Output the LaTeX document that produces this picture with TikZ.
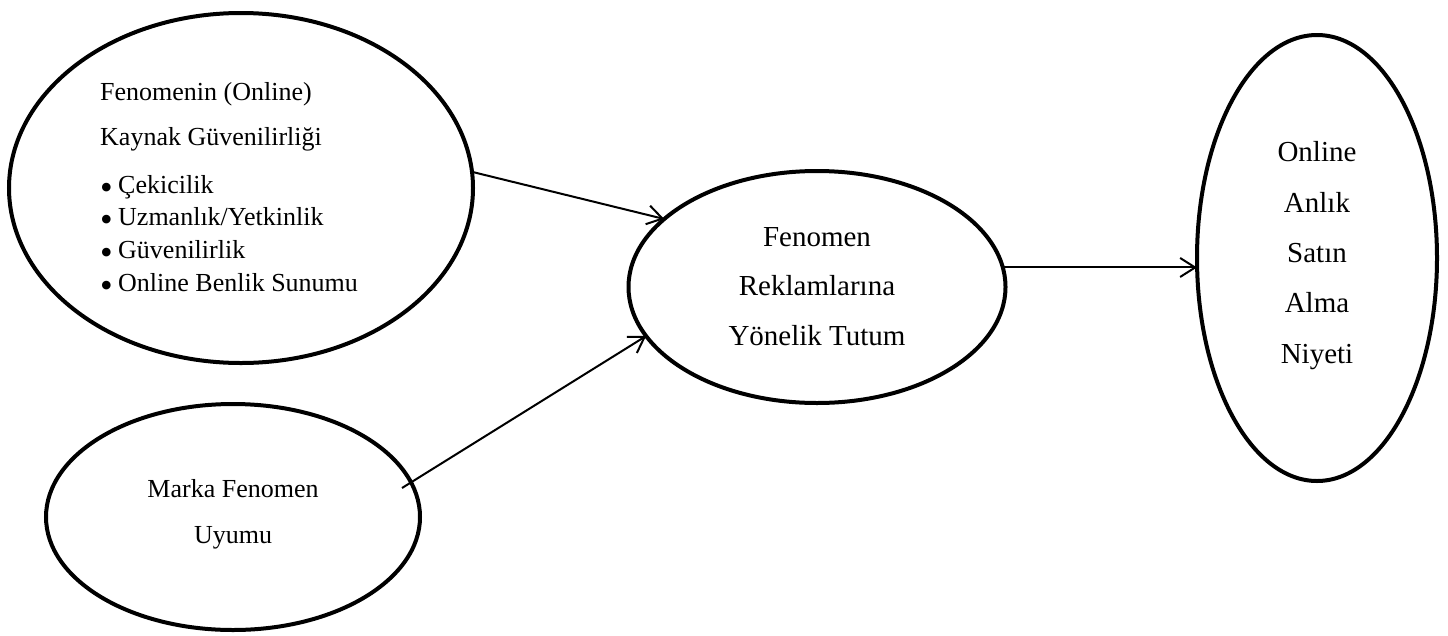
\documentclass[tikz,border=0pt]{standalone}
\usepackage{fontspec}
\setmainfont{Liberation Serif}
\usetikzlibrary{shapes.geometric,arrows.meta}
\newcommand{\bigbul}{\makebox[18pt][l]{\raisebox{-6pt}{\fontsize{36}{36}\selectfont •}}}
\begin{document}
\begin{tikzpicture}[x=1pt,y=-1pt,
  bubble/.style={draw,ellipse,line width=4pt,inner sep=0pt,outer sep=0pt},
  conn/.style={line width=2pt,-{Straight Barb[length=15pt,width=19pt]}},
  txtA/.style={inner sep=0pt,anchor=base west,font=\fontsize{26}{32.7}\selectfont},
  txtB/.style={inner sep=0pt,anchor=base,font=\fontsize{29}{34}\selectfont},
  txtC/.style={inner sep=0pt,anchor=base,font=\fontsize{26}{30}\selectfont}]
\useasboundingbox (0,0) rectangle (1448,635);
% ellipses
\node[bubble,minimum width=464pt,minimum height=350pt] (e1) at (241,188) {};
\node[bubble,minimum width=374pt,minimum height=226pt] (e2) at (233,517) {};
\node[bubble,minimum width=377pt,minimum height=232pt] (e3) at (817,287) {};
\node[bubble,minimum width=240pt,minimum height=446pt] (e4) at (1317,258) {};
% texts of e1
\node[txtA] (a1) at (100,100) {Fenomenin (Online)};
\node[txtA] (a2) at (100,145) {Kaynak Güvenilirliği};
\node[txtA] (a3) at (100,193) {\begin{tabular}[t]{@{}l@{}}
  \bigbul Çekicilik\\
  \bigbul Uzmanlık/Yetkinlik\\
  \bigbul Güvenilirlik\\
  \bigbul Online Benlik Sunumu
\end{tabular}};
% texts of e2
\node[txtC] (b1) at (233,497) {Marka Fenomen};
\node[txtC] (b2) at (233,543) {Uyumu};
% texts of e3
\node[txtB] (c1) at (817,246) {Fenomen};
\node[txtB] (c2) at (817,295) {Reklamlarına};
\node[txtB] (c3) at (817,345) {Yönelik Tutum};
% texts of e4
\node[txtB] (d1) at (1317,161) {Online};
\node[txtB] (d2) at (1317,212) {Anlık};
\node[txtB] (d3) at (1317,262) {Satın};
\node[txtB] (d4) at (1317,312) {Alma};
\node[txtB] (d5) at (1317,363) {Niyeti};
% connectors
\coordinate (s2) at (402,488);
\draw[conn] (e1.4) -- (e3.156);
\draw[conn] (s2) -- (e3.196);
\draw[conn] (e3.6) -- (e3.6 -| e4.west);
\end{tikzpicture}
\end{document}
